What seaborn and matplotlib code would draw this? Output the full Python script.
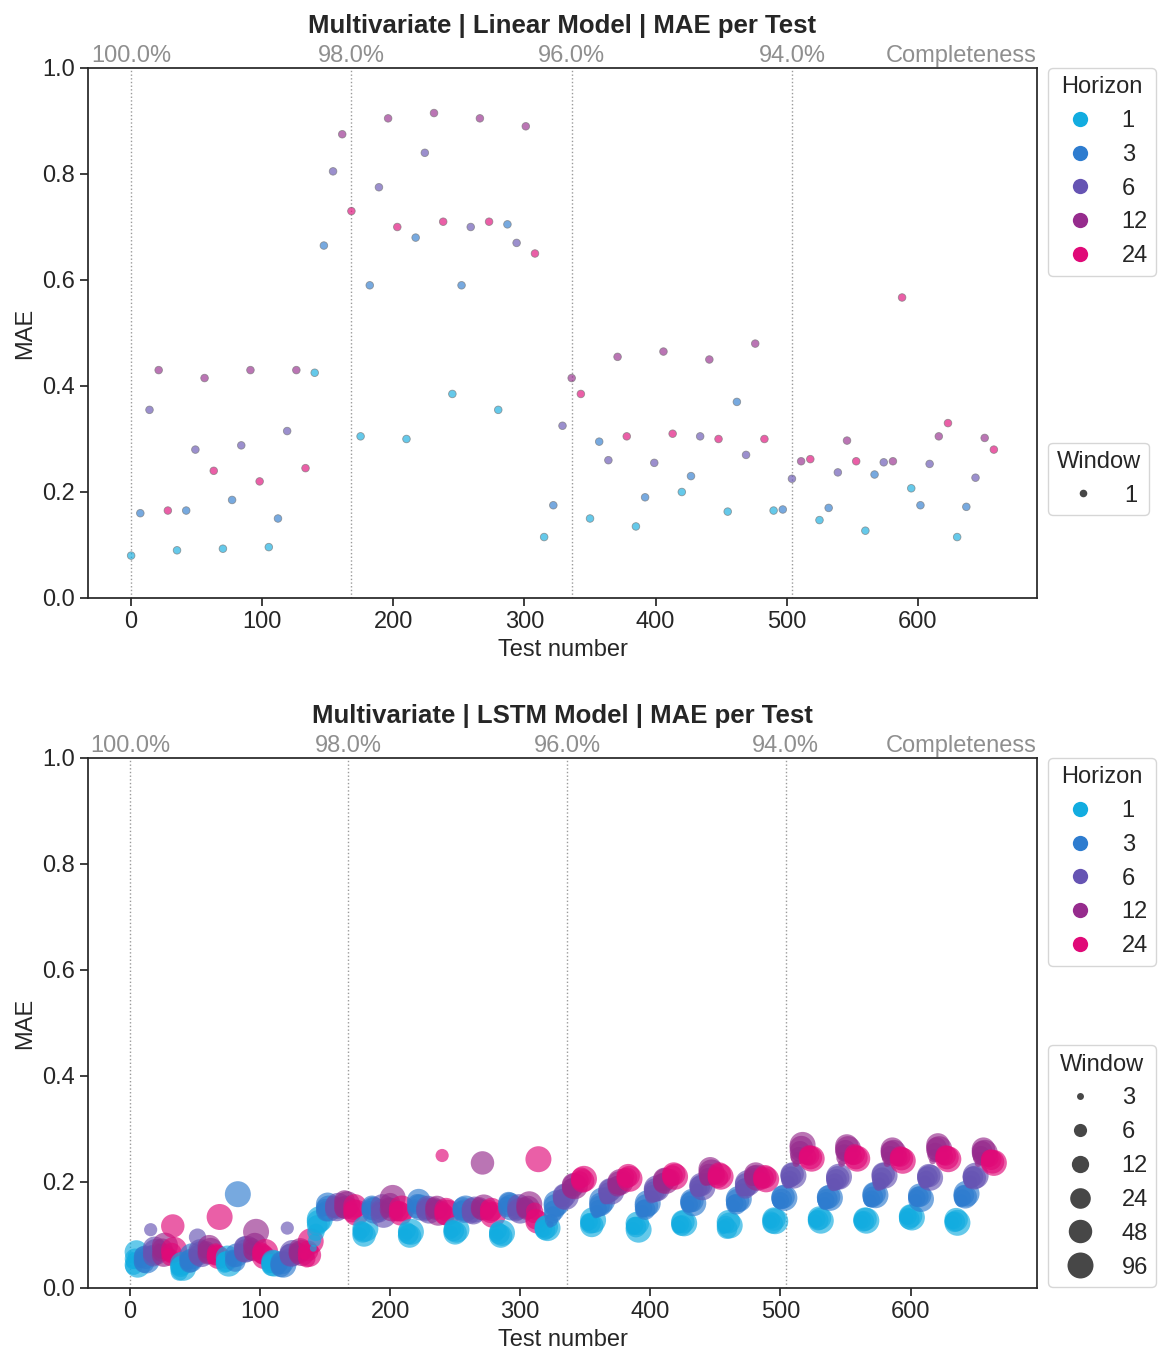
import numpy as np
import pandas as pd
import matplotlib
matplotlib.use("Agg")
import matplotlib.pyplot as plt
import seaborn as sns

# ---------------------------------------------------------------- data
HORIZONS = [1, 3, 6, 12, 24]
LINEAR_WINDOWS = [1]
LSTM_WINDOWS = [3, 6, 12, 24, 48, 96]
TESTS_PER_GROUP = 7          # one test per window (1, 3, 6, 12, 24, 48, 96)

COMPLETENESS_POS = [0, 168, 336, 504]
COMPLETENESS_LABELS = ["100.0%", "98.0%", "96.0%", "94.0%"]

PALETTE = {1: "#12ace0", 3: "#2e7ccf", 6: "#6654b3", 12: "#962b8d", 24: "#e00a78"}

# Linear model, window 1: one MAE per horizon group (horizons cycle 1,3,6,12,24)
linear_mae = [
    0.080, 0.160, 0.355, 0.430, 0.165, 0.090, 0.165, 0.280, 0.415, 0.240,
    0.093, 0.185, 0.288, 0.430, 0.220, 0.096, 0.150, 0.315, 0.430, 0.245,
    0.425, 0.665, 0.805, 0.875, 0.730, 0.305, 0.590, 0.775, 0.905, 0.700,
    0.300, 0.680, 0.840, 0.915, 0.710, 0.385, 0.590, 0.700, 0.905, 0.710,
    0.355, 0.705, 0.670, 0.890, 0.650, 0.115, 0.175, 0.325, 0.415, 0.385,
    0.150, 0.295, 0.260, 0.455, 0.305, 0.135, 0.190, 0.255, 0.465, 0.310,
    0.200, 0.230, 0.305, 0.450, 0.300, 0.163, 0.370, 0.270, 0.480, 0.300,
    0.165, 0.167, 0.225, 0.258, 0.262, 0.147, 0.170, 0.237, 0.297, 0.258,
    0.127, 0.233, 0.256, 0.258, 0.567, 0.207, 0.175, 0.253, 0.305, 0.330,
    0.115, 0.172, 0.227, 0.302, 0.280,
]

# LSTM model: one row per horizon group, columns = windows 3, 6, 12, 24, 48, 96
lstm_mae_100 = [
    [0.062, 0.048, 0.041, 0.055, 0.068, 0.044],
    [0.055, 0.050, 0.062, 0.048, 0.058, 0.052],
    [0.072, 0.110, 0.065, 0.060, 0.075, 0.068],
    [0.078, 0.070, 0.066, 0.074, 0.062, 0.080],
    [0.070, 0.062, 0.058, 0.066, 0.117, 0.072],
    [0.042, 0.036, 0.030, 0.040, 0.046, 0.038],
    [0.050, 0.046, 0.055, 0.048, 0.052, 0.060],
    [0.065, 0.058, 0.096, 0.062, 0.070, 0.064],
    [0.075, 0.068, 0.072, 0.064, 0.078, 0.070],
    [0.060, 0.055, 0.068, 0.062, 0.058, 0.134],
    [0.048, 0.055, 0.045, 0.050, 0.058, 0.046],
    [0.052, 0.060, 0.055, 0.050, 0.062, 0.177],
    [0.068, 0.072, 0.065, 0.078, 0.070, 0.074],
    [0.072, 0.065, 0.078, 0.070, 0.082, 0.106],
    [0.066, 0.060, 0.070, 0.064, 0.058, 0.068],
    [0.045, 0.040, 0.048, 0.042, 0.050, 0.046],
    [0.042, 0.038, 0.045, 0.040, 0.048, 0.044],
    [0.060, 0.113, 0.058, 0.064, 0.062, 0.066],
    [0.068, 0.062, 0.070, 0.065, 0.072, 0.066],
    [0.060, 0.066, 0.055, 0.070, 0.062, 0.088],
]

lstm_mae_98 = [
    [0.075, 0.090, 0.105, 0.118, 0.125, 0.130],
    [0.140, 0.148, 0.152, 0.145, 0.158, 0.150],
    [0.150, 0.145, 0.158, 0.152, 0.148, 0.155],
    [0.155, 0.160, 0.148, 0.165, 0.152, 0.158],
    [0.145, 0.150, 0.140, 0.148, 0.155, 0.142],
    [0.108, 0.102, 0.110, 0.105, 0.100, 0.112],
    [0.148, 0.152, 0.145, 0.155, 0.150, 0.146],
    [0.145, 0.150, 0.140, 0.148, 0.155, 0.138],
    [0.150, 0.145, 0.155, 0.160, 0.148, 0.170],
    [0.142, 0.138, 0.148, 0.145, 0.140, 0.150],
    [0.105, 0.100, 0.108, 0.102, 0.098, 0.106],
    [0.150, 0.155, 0.148, 0.158, 0.165, 0.152],
    [0.145, 0.150, 0.142, 0.148, 0.152, 0.146],
    [0.150, 0.145, 0.155, 0.148, 0.152, 0.142],
    [0.140, 0.250, 0.145, 0.138, 0.148, 0.142],
    [0.110, 0.105, 0.112, 0.108, 0.104, 0.110],
    [0.145, 0.140, 0.148, 0.152, 0.145, 0.150],
    [0.140, 0.145, 0.138, 0.150, 0.142, 0.148],
    [0.150, 0.145, 0.155, 0.148, 0.236, 0.152],
    [0.145, 0.140, 0.150, 0.142, 0.148, 0.138],
    [0.105, 0.100, 0.108, 0.102, 0.098, 0.104],
    [0.155, 0.160, 0.150, 0.162, 0.158, 0.152],
    [0.145, 0.150, 0.142, 0.148, 0.155, 0.146],
    [0.150, 0.145, 0.155, 0.148, 0.152, 0.158],
    [0.140, 0.135, 0.145, 0.130, 0.125, 0.243],
]

lstm_mae_96 = [
    [0.105, 0.108, 0.112, 0.110, 0.115, 0.113],
    [0.120, 0.128, 0.138, 0.146, 0.155, 0.160],
    [0.160, 0.165, 0.170, 0.168, 0.175, 0.172],
    [0.180, 0.185, 0.190, 0.188, 0.195, 0.192],
    [0.195, 0.200, 0.204, 0.208, 0.202, 0.206],
    [0.115, 0.120, 0.125, 0.122, 0.118, 0.128],
    [0.138, 0.145, 0.150, 0.155, 0.158, 0.165],
    [0.165, 0.170, 0.175, 0.180, 0.185, 0.182],
    [0.185, 0.190, 0.195, 0.192, 0.198, 0.200],
    [0.200, 0.205, 0.210, 0.208, 0.212, 0.206],
    [0.108, 0.112, 0.118, 0.115, 0.122, 0.110],
    [0.140, 0.145, 0.150, 0.148, 0.155, 0.160],
    [0.170, 0.172, 0.178, 0.182, 0.185, 0.188],
    [0.190, 0.195, 0.200, 0.198, 0.205, 0.202],
    [0.205, 0.210, 0.208, 0.212, 0.215, 0.210],
    [0.110, 0.115, 0.120, 0.118, 0.125, 0.122],
    [0.150, 0.155, 0.158, 0.162, 0.165, 0.160],
    [0.180, 0.185, 0.188, 0.192, 0.195, 0.190],
    [0.200, 0.205, 0.210, 0.215, 0.225, 0.218],
    [0.205, 0.210, 0.212, 0.208, 0.215, 0.210],
    [0.108, 0.115, 0.120, 0.112, 0.125, 0.118],
    [0.150, 0.155, 0.160, 0.158, 0.165, 0.168],
    [0.180, 0.185, 0.190, 0.188, 0.195, 0.198],
    [0.200, 0.205, 0.210, 0.212, 0.215, 0.208],
    [0.200, 0.205, 0.202, 0.208, 0.210, 0.205],
    [0.120, 0.125, 0.128, 0.122, 0.130, 0.126],
    [0.158, 0.162, 0.165, 0.168, 0.172, 0.170],
]

lstm_mae_94 = [
    [0.195, 0.200, 0.205, 0.210, 0.215, 0.212],
    [0.235, 0.245, 0.250, 0.258, 0.265, 0.270],
    [0.240, 0.245, 0.248, 0.250, 0.246, 0.244],
    [0.122, 0.126, 0.130, 0.128, 0.132, 0.127],
    [0.155, 0.160, 0.165, 0.168, 0.172, 0.170],
    [0.190, 0.195, 0.200, 0.205, 0.208, 0.210],
    [0.235, 0.245, 0.255, 0.260, 0.268, 0.262],
    [0.240, 0.245, 0.248, 0.252, 0.246, 0.244],
    [0.122, 0.125, 0.128, 0.126, 0.130, 0.127],
    [0.160, 0.165, 0.168, 0.172, 0.178, 0.175],
    [0.190, 0.196, 0.202, 0.208, 0.215, 0.212],
    [0.235, 0.245, 0.252, 0.258, 0.262, 0.255],
    [0.238, 0.242, 0.246, 0.248, 0.244, 0.240],
    [0.128, 0.132, 0.135, 0.130, 0.136, 0.133],
    [0.162, 0.166, 0.170, 0.172, 0.175, 0.168],
    [0.195, 0.200, 0.205, 0.210, 0.212, 0.208],
    [0.240, 0.250, 0.258, 0.265, 0.270, 0.262],
    [0.240, 0.245, 0.248, 0.250, 0.246, 0.243],
    [0.120, 0.124, 0.127, 0.125, 0.129, 0.123],
    [0.160, 0.165, 0.170, 0.175, 0.172, 0.178],
    [0.195, 0.200, 0.205, 0.210, 0.208, 0.212],
    [0.235, 0.245, 0.252, 0.258, 0.262, 0.255],
    [0.235, 0.240, 0.245, 0.242, 0.238, 0.236],
]


def linear_frame():
    n = len(linear_mae)
    return pd.DataFrame({
        "Test number": TESTS_PER_GROUP * np.arange(n),
        "MAE": linear_mae,
        "Horizon": [HORIZONS[i % len(HORIZONS)] for i in range(n)],
        "Window": LINEAR_WINDOWS[0],
    })


def lstm_frame():
    rows = lstm_mae_100 + lstm_mae_98 + lstm_mae_96 + lstm_mae_94
    recs = []
    for g, row in enumerate(rows):
        for j, w in enumerate(LSTM_WINDOWS):
            recs.append({
                "Test number": TESTS_PER_GROUP * g + j + 1,
                "MAE": row[j],
                "Horizon": HORIZONS[g % len(HORIZONS)],
                "Window": w,
            })
    return pd.DataFrame(recs)


# ---------------------------------------------------------------- style
sns.set_theme(style="ticks")
plt.rcParams["font.family"] = ["Liberation Sans", "DejaVu Sans"]
FS = 17
plt.rcParams.update({
    "xtick.labelsize": FS, "ytick.labelsize": FS,
    "axes.labelsize": FS, "axes.titlesize": 18.5,
    "legend.fontsize": FS, "legend.title_fontsize": FS,
})
GREY_TXT = "#8f8f8f"

fig = plt.figure(figsize=(11.63, 13.51), dpi=100)
W, H = 1163, 1351
ax_top = fig.add_axes([88 / W, 1 - 598 / H, 949 / W, 530 / H])
ax_bot = fig.add_axes([88 / W, 1 - 1288 / H, 949 / W, 530 / H])


def decorate(ax, title, size_anchor):
    ax.set_ylim(0, 1.0)
    ax.set_yticks(np.arange(0, 1.01, 0.2))
    ax.set_xlabel("Test number")
    ax.set_ylabel("MAE")
    for x in COMPLETENESS_POS:
        ax.axvline(x, color="#9a9a9a", ls=":", lw=1.0, zorder=0)

    sec = ax.secondary_xaxis("top")
    sec.set_xticks(COMPLETENESS_POS, labels=COMPLETENESS_LABELS)
    sec.tick_params(length=0, pad=1.0, labelcolor=GREY_TXT, labelsize=FS)
    sec.spines["top"].set_visible(False)
    ax.annotate("Completeness", xy=(1, 1), xycoords="axes fraction",
                xytext=(0, 1.0), textcoords="offset points",
                ha="right", va="bottom", color=GREY_TXT, fontsize=FS)
    ax.set_title(title, fontweight="bold", pad=8)

    # split seaborn's combined legend into a Horizon box and a Window box
    leg = ax.get_legend()
    handles = list(leg.legend_handles)
    labels = [t.get_text() for t in leg.get_texts()]
    leg.remove()
    hi, si = labels.index("Horizon"), labels.index("Window")
    hue_h, hue_l = handles[hi + 1:si], labels[hi + 1:si]
    size_h, size_l = handles[si + 1:], labels[si + 1:]
    for h in hue_h:
        h.set_markersize(11)
        h.set_alpha(1)
        h.set_markeredgewidth(0)
    for h in size_h:
        h.set_alpha(0.9)
        h.set_markeredgewidth(0)
    l1 = ax.legend(hue_h, hue_l, title="Horizon", loc="upper left",
                   bbox_to_anchor=(1.012, 1.0), borderaxespad=0,
                   handletextpad=0.75, borderpad=0.35)
    ax.add_artist(l1)
    ax.legend(size_h, size_l, title="Window", loc="center left",
              bbox_to_anchor=(1.012, size_anchor), borderaxespad=0,
              handletextpad=0.75, borderpad=0.35)


lin = linear_frame()
sns.scatterplot(data=lin, x="Test number", y="MAE", hue="Horizon", size="Window",
                hue_order=HORIZONS, palette=PALETTE, sizes={1: 30},
                alpha=0.65, edgecolor="0.45", linewidth=0.6, ax=ax_top)
decorate(ax_top, "Multivariate | Linear Model | MAE per Test", 0.225)

lstm = lstm_frame()
lstm_sizes = dict(zip(LSTM_WINDOWS, [25, 90, 155, 220, 285, 350]))
sns.scatterplot(data=lstm, x="Test number", y="MAE", hue="Horizon", size="Window",
                hue_order=HORIZONS, palette=PALETTE, sizes=lstm_sizes,
                alpha=0.65, linewidth=0, ax=ax_bot)
decorate(ax_bot, "Multivariate | LSTM Model | MAE per Test", 0.23)

fig.savefig("out.png", dpi=100)
